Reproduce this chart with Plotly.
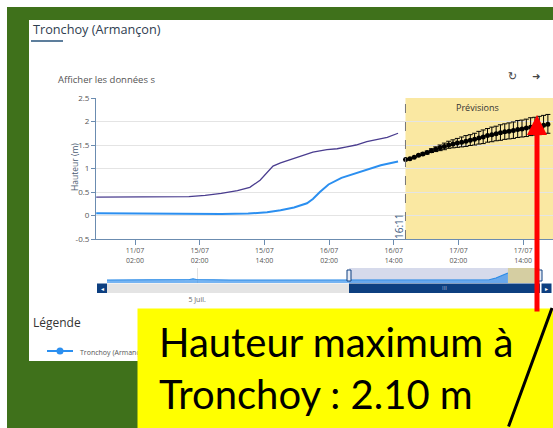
import plotly.graph_objects as go

W, H = 553, 428


def px(x):
    return x / W


def py(y):
    return 1 - y / H


# ---------------- data (hours after 11/07 02:00 as labelled) ----------------
amont_hours = [-7.2, 0, 6.5, 10, 13, 16, 19, 21.3, 23.2, 24.4, 25.6, 27, 29.3, 31, 33,
               35.6, 37.5, 39.3, 41, 43, 45, 46.8, 48.8]
amont_level = [0.39, 0.39, 0.39, 0.40, 0.43, 0.47, 0.53, 0.60, 0.75, 0.90, 1.05, 1.12,
               1.21, 1.28, 1.35, 1.40, 1.42, 1.46, 1.50, 1.57, 1.61, 1.66, 1.75]

tronchoy_hours = [-7.2, 0, 8, 16, 21, 24.5, 27, 29.5, 31.9, 33, 34.3, 35.9, 38.3, 41,
                  43.1, 45.6, 48.8]
tronchoy_level = [0.05, 0.04, 0.03, 0.03, 0.04, 0.07, 0.11, 0.17, 0.26, 0.35, 0.50, 0.66,
                  0.80, 0.90, 0.98, 1.07, 1.15]

forecast_hours = [50.2, 51.0, 51.8, 52.6, 53.4, 54.2, 55.0, 55.8, 56.6, 57.4, 58.2, 59.0,
                  59.8, 60.6, 61.4, 62.2, 63.0, 63.8, 64.6, 65.4, 66.2, 67.0, 67.8, 68.6,
                  69.4, 70.2, 71.0, 71.8, 72.6, 73.4, 74.2, 75.0, 75.8, 76.6]
forecast_level = [1.19, 1.21, 1.24, 1.28, 1.31, 1.34, 1.38, 1.41, 1.44, 1.47, 1.50, 1.52,
                  1.54, 1.56, 1.58, 1.60, 1.62, 1.65, 1.67, 1.70, 1.72, 1.74, 1.76, 1.78,
                  1.79, 1.81, 1.83, 1.84, 1.86, 1.88, 1.89, 1.91, 1.92, 1.94]
forecast_plus = [0.0, 0.0, 0.0, 0.01, 0.02, 0.03, 0.04, 0.05, 0.06, 0.07, 0.08, 0.09,
                 0.10, 0.11, 0.12, 0.12, 0.13, 0.14, 0.15, 0.15, 0.16, 0.16, 0.17, 0.17,
                 0.18, 0.18, 0.19, 0.19, 0.19, 0.20, 0.20, 0.20, 0.21, 0.21]
forecast_minus = [0.0, 0.0, 0.0, 0.01, 0.02, 0.03, 0.04, 0.05, 0.06, 0.07, 0.07, 0.08,
                  0.09, 0.10, 0.11, 0.11, 0.12, 0.13, 0.14, 0.14, 0.15, 0.15, 0.16, 0.16,
                  0.16, 0.17, 0.17, 0.17, 0.18, 0.18, 0.18, 0.19, 0.19, 0.19]

nav_hours = [-114.7, -100, -85, -78, -76.5, -75, -60, -40, -20, 0, 20, 40, 50, 55, 58,
             61, 63.3]
nav_level = [0.6, 0.6, 0.6, 0.7, 0.85, 0.7, 0.6, 0.6, 0.6, 0.6, 0.6, 0.6, 0.6, 0.65,
             1.0, 1.6, 2.0]

tick_hours = [0, 12, 24, 36, 48, 60, 72]
tick_text = ["11/07<br>02:00", "15/07<br>02:00", "15/07<br>14:00", "16/07<br>02:00",
             "16/07<br>14:00", "17/07<br>02:00", "17/07<br>14:00"]
y_ticks = [-0.5, 0, 0.5, 1, 1.5, 2, 2.5]
y_tick_text = ["-0.5", "0", "0.5", "1", "1.5", "2", "2.5"]

now_hour = 50.18
x_range = [-7.24, 77.55]
nav_range = [-114.7, 77.55]
nav_forecast = [63.3, 76.8]
nav_tick = [-74.7]
nav_tick_text = ["5 Juil."]

FONT = "Open Sans"
BLUE = "#2b8ff0"
PURPLE = "#4a3d8f"
AXIS = "#6b8cb0"
NAVY = "#0d3f80"

fig = go.Figure()

fig.add_trace(go.Scatter(x=amont_hours, y=amont_level, mode="lines",
                         line=dict(color=PURPLE, width=1.3), showlegend=False,
                         xaxis="x", yaxis="y"))
fig.add_trace(go.Scatter(x=tronchoy_hours, y=tronchoy_level, mode="lines",
                         line=dict(color=BLUE, width=2), showlegend=False,
                         xaxis="x", yaxis="y"))
fig.add_trace(go.Scatter(x=forecast_hours, y=forecast_level, mode="markers",
                         marker=dict(color="black", size=5),
                         error_y=dict(type="data", array=forecast_plus,
                                      arrayminus=forecast_minus, color="black",
                                      thickness=1, width=2.5),
                         showlegend=False, xaxis="x", yaxis="y"))
fig.add_trace(go.Scatter(x=nav_hours, y=nav_level, mode="lines", fill="tozeroy",
                         line=dict(color="#2a8ae6", width=1.2),
                         fillcolor="rgba(45,140,235,0.65)", showlegend=False,
                         xaxis="x2", yaxis="y2"))

shapes = [
    # page background and white panel
    dict(type="rect", xref="paper", yref="paper", x0=px(7), x1=px(560), y0=py(7), y1=py(440),
         fillcolor="#3f711b", line=dict(width=0), layer="below"),
    dict(type="rect", xref="paper", yref="paper", x0=px(29), x1=px(560), y0=py(20), y1=py(361),
         fillcolor="white", line=dict(width=0), layer="below"),
    dict(type="line", xref="paper", yref="paper", x0=px(31), x1=px(63), y0=py(41), y1=py(41),
         line=dict(color="#5d7e9c", width=2)),
    # forecast band
    dict(type="rect", xref="x", yref="y domain", x0=now_hour, x1=x_range[1], y0=0, y1=1,
         fillcolor="#fae8a2", line=dict(width=0), layer="below"),
    dict(type="line", xref="x", yref="y domain", x0=now_hour, x1=now_hour, y0=0, y1=1,
         line=dict(color="#777", width=1, dash="dash")),
    # navigator
    dict(type="rect", xref="x2", yref="y2 domain", x0=x_range[0], x1=x_range[1], y0=0, y1=1,
         fillcolor="#d6daeb", line=dict(width=0), layer="below"),
    dict(type="rect", xref="x2", yref="y2 domain", x0=nav_forecast[0], x1=nav_forecast[1],
         y0=0, y1=1, fillcolor="#d5cea2", line=dict(width=0), layer="below"),
    # scrollbar
    dict(type="rect", xref="paper", yref="paper", x0=px(107), x1=px(349), y0=py(283.5), y1=py(293),
         fillcolor="#e4e4e4", line=dict(width=0)),
    dict(type="rect", xref="paper", yref="paper", x0=px(349), x1=px(540), y0=py(283.5), y1=py(293),
         fillcolor=NAVY, line=dict(width=0)),
    dict(type="rect", xref="paper", yref="paper", x0=px(97), x1=px(107), y0=py(283.5), y1=py(293),
         fillcolor=NAVY, line=dict(width=0)),
    dict(type="rect", xref="paper", yref="paper", x0=px(541.5), x1=px(551.5), y0=py(283.5), y1=py(293),
         fillcolor=NAVY, line=dict(width=0)),
    # handles
    dict(type="rect", xref="paper", yref="paper", x0=px(347), x1=px(351), y0=py(270), y1=py(281),
         fillcolor="#e8ecf5", line=dict(color=NAVY, width=1)),
    dict(type="rect", xref="paper", yref="paper", x0=px(538), x1=px(542), y0=py(270), y1=py(281),
         fillcolor="#e8ecf5", line=dict(color=NAVY, width=1)),
    # legend symbol
    dict(type="line", xref="paper", yref="paper", x0=px(47), x1=px(73), y0=py(351), y1=py(351),
         line=dict(color=BLUE, width=2)),
    dict(type="circle", xref="paper", yref="paper", x0=px(56.5), x1=px(63.5), y0=py(347.5),
         y1=py(354.5), fillcolor=BLUE, line=dict(width=0)),
]

ann = [
    dict(text="Tronchoy (Armançon)", x=px(31), y=py(29), xanchor="left", yanchor="middle",
         font=dict(family=FONT, size=12.7, color="#2f4050")),
    dict(text="Afficher les données s", x=px(56), y=py(79), xanchor="left", yanchor="middle",
         font=dict(family=FONT, size=9.5, color="#555")),
    dict(text="↻", x=px(512), y=py(76), xanchor="center", yanchor="middle",
         font=dict(family="DejaVu Sans", size=11, color="#444")),
    dict(text="➜", x=px(536), y=py(76), xanchor="center", yanchor="middle",
         font=dict(family="DejaVu Sans", size=10, color="#444")),
    dict(text="Hauteur (m)", x=px(74), y=py(167), xanchor="center", yanchor="middle",
         textangle=-90, font=dict(family=FONT, size=8.5, color="#4a5a70")),
    dict(text="Prévisions", x=px(477), y=py(107), xanchor="center", yanchor="middle",
         font=dict(family=FONT, size=9, color="#333")),
    dict(text="16:11", x=px(399), y=py(226), xanchor="center", yanchor="middle",
         textangle=-90, font=dict(family=FONT, size=10, color="#3b5a80")),
    dict(text="Légende", x=px(31), y=py(322), xanchor="left", yanchor="middle",
         font=dict(family=FONT, size=12, color="#333")),
    dict(text="Tronchoy (Armançon)", x=px(78), y=py(352), xanchor="left", yanchor="middle",
         font=dict(family=FONT, size=7, color="#555")),
    dict(text="III", x=px(444), y=py(288.3), xanchor="center", yanchor="middle",
         font=dict(family=FONT, size=6, color="#a9bcd8")),
    dict(text="◂", x=px(102), y=py(288.3), xanchor="center", yanchor="middle",
         font=dict(family="DejaVu Sans", size=6, color="white")),
    dict(text="▸", x=px(546.5), y=py(288.3), xanchor="center", yanchor="middle",
         font=dict(family="DejaVu Sans", size=6, color="white")),
    # yellow callout box
    dict(text=" ", x=px(137), y=py(307.7), xanchor="left", yanchor="top", width=440,
         height=130, bgcolor="#ffff00", borderpad=0, font=dict(size=10)),
    dict(text="Hauteur maximum à<br>Tronchoy : 2.10 m", x=px(157), y=py(368),
         xanchor="left", yanchor="middle", align="left",
         font=dict(family="Lato", size=40, color="black")),
    # red arrow
    dict(text="", x=px(537), y=py(115), ax=0, ay=198, showarrow=True, arrowhead=2,
         arrowsize=0.8, arrowwidth=5, arrowcolor="#ff0000", standoff=0),
    # black diagonal stroke
    dict(text="", x=px(556), y=py(308), ax=-48, ay=120, showarrow=True, arrowhead=0,
         arrowwidth=3, arrowcolor="black", standoff=0),
]
for a in ann:
    a.setdefault("xref", "paper")
    a.setdefault("yref", "paper")
    a.setdefault("showarrow", False)

fig.update_layout(
    width=W, height=428, autosize=False,
    margin=dict(l=0, r=0, t=0, b=0),
    paper_bgcolor="white", plot_bgcolor="rgba(0,0,0,0)",
    showlegend=False,
    xaxis=dict(domain=[px(96), 1], range=x_range, showgrid=False, zeroline=False,
               showline=True, linecolor=AXIS, linewidth=1, ticks="outside", ticklen=5,
               tickcolor=AXIS, tickvals=tick_hours, ticktext=tick_text,
               tickfont=dict(family=FONT, size=7, color="#555"), anchor="y",
               automargin=False),
    yaxis=dict(domain=[py(239), py(98)], range=[-0.5, 2.5], tickvals=y_ticks,
               ticktext=y_tick_text, showgrid=True, gridcolor="#e4e4e4", zeroline=False,
               showline=True, linecolor=AXIS, linewidth=1, ticks="outside", ticklen=4,
               tickcolor=AXIS, tickfont=dict(family=FONT, size=8, color="#555"),
               anchor="x", automargin=False),
    xaxis2=dict(domain=[px(107), px(540)], range=nav_range, showgrid=True,
                gridcolor="#e2e2e2", zeroline=False, showline=False, ticks="",
                tickvals=nav_tick, ticktext=nav_tick_text, ticklabelstandoff=11,
                tickfont=dict(family=FONT, size=7, color="#666"), anchor="y2",
                automargin=False),
    yaxis2=dict(domain=[py(283), py(268)], range=[0, 3], visible=False, anchor="x2"),
    shapes=shapes,
    annotations=ann,
)

fig.write_html("out.html", config={"displayModeBar": False},
               post_script="document.body.style.margin='0';document.body.style.overflow='hidden';")
